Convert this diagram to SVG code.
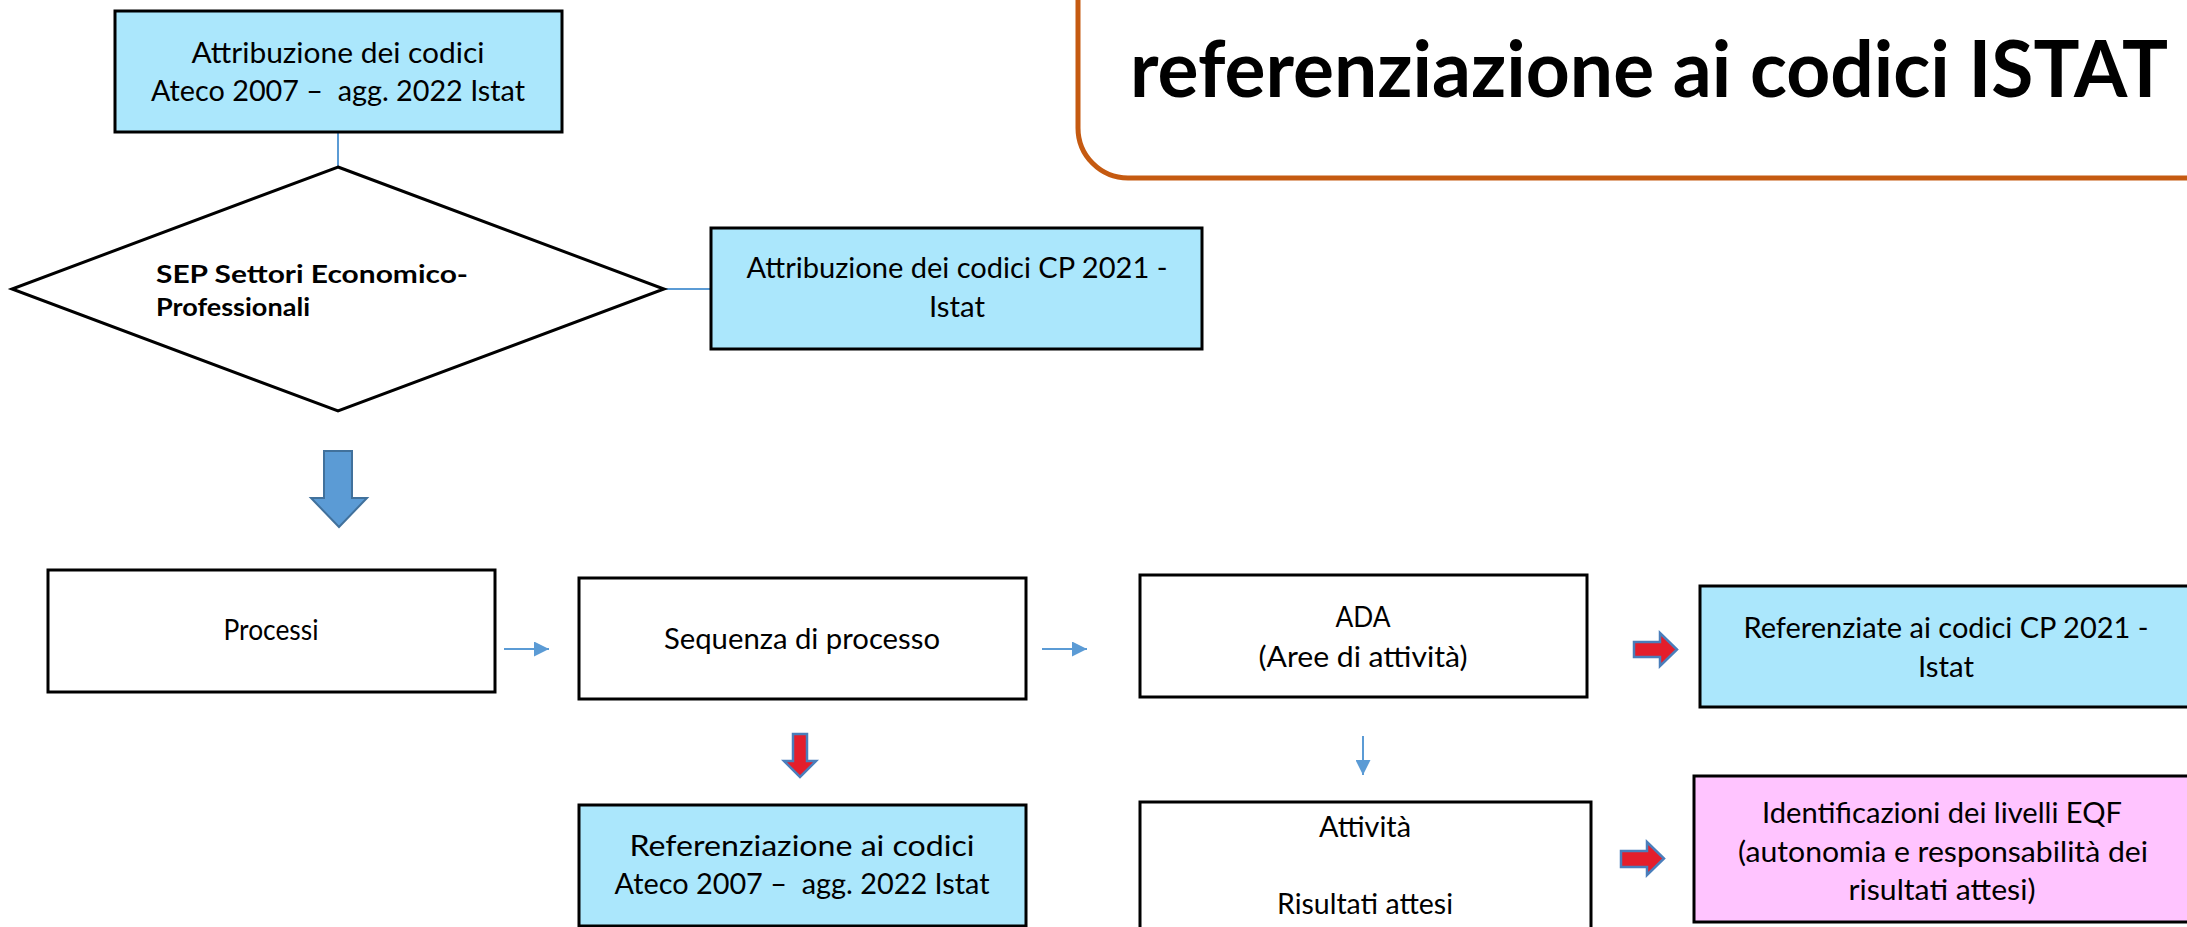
<svg xmlns="http://www.w3.org/2000/svg" width="2187" height="927" viewBox="0 0 2187 927">
<style>
.bx{stroke:#000;stroke-width:3}
.blue{fill:#ABE7FC}
.white{fill:#fff}
.pink{fill:#FFC4FF}
.t{font-family:Lato,"Liberation Sans",sans-serif;font-size:29px;fill:#000;text-anchor:middle;white-space:pre}
.tb{font-family:Lato,"Liberation Sans",sans-serif;font-size:24px;font-weight:bold;fill:#000}
.ttl{font-family:Lato,"Liberation Sans",sans-serif;font-size:79px;font-weight:bold;fill:#000}
.thin{stroke:#5B9BD5;stroke-width:2;fill:none}
.bigblue{fill:#5B9BD5;stroke:#41719C;stroke-width:2}
.red{fill:#E41E2B;stroke:#4A7EBB;stroke-width:2.5}
</style>
<defs>
<marker id="ah" markerWidth="15" markerHeight="15" refX="15" refY="7.5" orient="auto" markerUnits="userSpaceOnUse">
<path d="M0,0 L15,7.5 L0,15 Z" fill="#5B9BD5"/>
</marker>
</defs>
<rect width="2187" height="927" fill="#fff"/>

<g id="title">
<rect x="1078" y="-80" width="1170" height="258" rx="50" fill="#fff" stroke="#C55A11" stroke-width="5"/>
<text class="ttl" x="1130" y="97" textLength="1038" lengthAdjust="spacingAndGlyphs">referenziazione ai codici ISTAT</text>
</g>

<g id="connectors">
<line class="thin" x1="338" y1="132" x2="338" y2="167" stroke-width="1.5"/>
<line class="thin" x1="664" y1="289" x2="711" y2="289"/>
<path class="bigblue" d="M324,451 H352 V498 H367 L339,527 L311,498 H324 Z"/>
<line class="thin" x1="504" y1="649" x2="549" y2="649" marker-end="url(#ah)"/>
<line class="thin" x1="1042" y1="649" x2="1087" y2="649" marker-end="url(#ah)"/>
<path class="red" d="M793,734 H807 V761 H816 L800,777 L784,761 H793 Z"/>
<line class="thin" x1="1363" y1="736" x2="1363" y2="775" marker-end="url(#ah)"/>
<path class="red" d="M1634,642 H1660 V633 L1677,649.5 L1660,666 V657 H1634 Z"/>
<path class="red" d="M1621,851 H1647 V842 L1664,858.5 L1647,875 V867 H1621 Z"/>
</g>

<g id="attribuzione-ateco">
<rect class="bx blue" x="115" y="11" width="447" height="121"/>
<text class="t" x="338" y="63" textLength="293" lengthAdjust="spacingAndGlyphs">Attribuzione dei codici</text>
<text class="t" x="338" y="101" textLength="374" lengthAdjust="spacingAndGlyphs">Ateco 2007 –  agg. 2022 Istat</text>
</g>

<g id="sep">
<polygon points="338,167 664,289 338,411 12,289" fill="#fff" stroke="#000" stroke-width="3"/>
<text class="tb" x="156" y="283" textLength="312" lengthAdjust="spacingAndGlyphs">SEP Settori Economico-</text>
<text class="tb" x="156" y="316" textLength="154" lengthAdjust="spacingAndGlyphs">Professionali</text>
</g>

<g id="attribuzione-cp">
<rect class="bx blue" x="711" y="228" width="491" height="121"/>
<text class="t" x="957" y="278" textLength="421" lengthAdjust="spacingAndGlyphs">Attribuzione dei codici CP 2021 -</text>
<text class="t" x="957" y="317" textLength="56" lengthAdjust="spacingAndGlyphs">Istat</text>
</g>

<g id="processi">
<rect class="bx white" x="48" y="570" width="447" height="122"/>
<text class="t" x="271" y="640" textLength="95" lengthAdjust="spacingAndGlyphs">Processi</text>
</g>

<g id="sequenza">
<rect class="bx white" x="579" y="578" width="447" height="121"/>
<text class="t" x="802" y="649" textLength="276" lengthAdjust="spacingAndGlyphs">Sequenza di processo</text>
</g>

<g id="referenziazione-ateco">
<rect class="bx blue" x="579" y="805" width="447" height="121"/>
<text class="t" x="802" y="856" textLength="345" lengthAdjust="spacingAndGlyphs">Referenziazione ai codici</text>
<text class="t" x="802" y="894" textLength="375" lengthAdjust="spacingAndGlyphs">Ateco 2007 –  agg. 2022 Istat</text>
</g>

<g id="ada">
<rect class="bx white" x="1140" y="575" width="447" height="122"/>
<text class="t" x="1363" y="627" textLength="55" lengthAdjust="spacingAndGlyphs">ADA</text>
<text class="t" x="1363" y="667" textLength="209" lengthAdjust="spacingAndGlyphs">(Aree di attività)</text>
</g>

<g id="attivita">
<rect class="bx white" x="1140" y="802" width="451" height="140"/>
<text class="t" x="1365" y="837" textLength="92" lengthAdjust="spacingAndGlyphs">Attività</text>
<text class="t" x="1365" y="914" textLength="176" lengthAdjust="spacingAndGlyphs">Risultati attesi</text>
</g>

<g id="referenziate-cp">
<rect class="bx blue" x="1700" y="586" width="520" height="121"/>
<text class="t" x="1946" y="638" textLength="405" lengthAdjust="spacingAndGlyphs">Referenziate ai codici CP 2021 -</text>
<text class="t" x="1946" y="677" textLength="56" lengthAdjust="spacingAndGlyphs">Istat</text>
</g>

<g id="eqf">
<rect class="bx pink" x="1694" y="776" width="530" height="146"/>
<text class="t" x="1942" y="823" textLength="360" lengthAdjust="spacingAndGlyphs">Identificazioni dei livelli EQF</text>
<text class="t" x="1943" y="862" textLength="410" lengthAdjust="spacingAndGlyphs">(autonomia e responsabilità dei</text>
<text class="t" x="1942" y="900" textLength="187" lengthAdjust="spacingAndGlyphs">risultati attesi)</text>
</g>
</svg>
